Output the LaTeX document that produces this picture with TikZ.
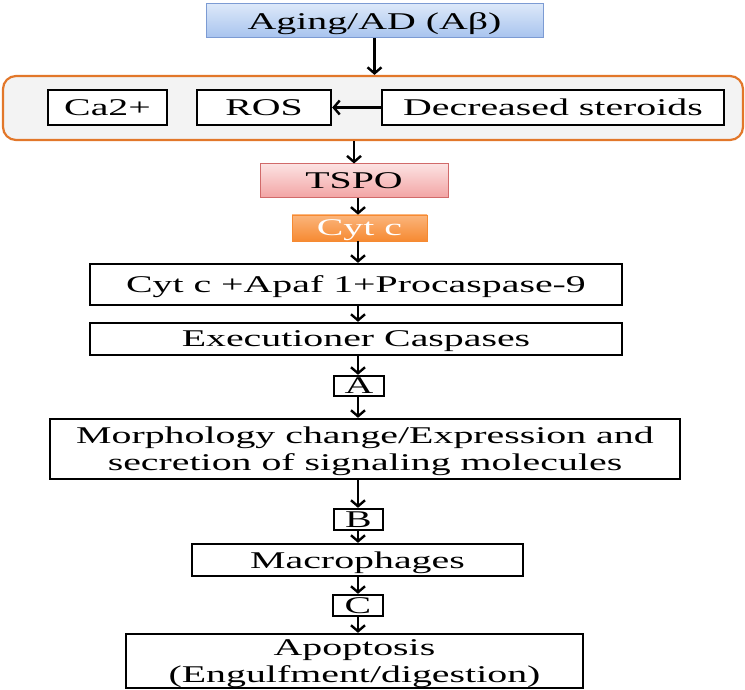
\documentclass[tikz,border=0pt]{standalone}
\usepackage{fontspec}
\setmainfont[FakeStretch=1.66]{Liberation Serif}
\usetikzlibrary{arrows.meta}

\definecolor{agingtop}{HTML}{DCE8F9}
\definecolor{agingbot}{HTML}{A7C3EE}
\definecolor{agingedge}{HTML}{7C9BD3}
\definecolor{tspotop}{HTML}{FCE2E2}
\definecolor{tspobot}{HTML}{F2A3A3}
\definecolor{tspoedge}{HTML}{D16A6A}
\definecolor{cyttop}{HTML}{FBB57C}
\definecolor{cytbot}{HTML}{F68A32}
\definecolor{groupedge}{HTML}{E2772A}
\definecolor{groupfill}{HTML}{F3F3F3}

\begin{document}
\begin{tikzpicture}[x=1pt,y=-1pt,
    every node/.style={font=\fontsize{24}{27}\selectfont,inner sep=0pt,text depth=0pt,align=center},
    blk/.style={draw,line width=2.3pt,fill=white},
    arr/.style={line width=2.4pt,-{Straight Barb[length=6pt,width=14pt]}}]
  \useasboundingbox (0,0) rectangle (745,690);
  \node[draw=agingedge,line width=1pt,top color=agingtop,bottom color=agingbot,minimum width=337,minimum height=34] (aging) at (374.5,21) {Aging/AD (Aβ)};
  \node[draw=groupedge,line width=2.2pt,fill=groupfill,rounded corners=13pt,minimum width=740,minimum height=64] (group) at (373,108) {};
  \node[blk,minimum width=119,minimum height=35] (ca) at (107.5,107.5) {Ca2+};
  \node[blk,minimum width=134,minimum height=35] (ros) at (264,107.5) {ROS};
  \node[blk,minimum width=342,minimum height=35] (steroids) at (553,107.5) {Decreased steroids};
  \node[draw=tspoedge,line width=1pt,top color=tspotop,bottom color=tspobot,minimum width=188,minimum height=34] (tspo) at (354,181) {TSPO};
  \node[draw=cytbot,line width=.6pt,top color=cyttop,bottom color=cytbot,text=white,minimum width=135,minimum height=26] (cytc) at (359.5,228) {Cyt c};
  \node[blk,minimum width=532,minimum height=41] (apaf) at (356,284.5) {Cyt c +Apaf 1+Procaspase-9};
  \node[blk,minimum width=532,minimum height=32] (exec) at (356,339) {Executioner Caspases};
  \node[blk,minimum width=50,minimum height=20] (stepa) at (359,386) {A};
  \node[blk,minimum width=630,minimum height=60] (morph) at (365,449) {Morphology change/Expression and\\secretion of signaling molecules};
  \node[blk,minimum width=49,minimum height=21] (stepb) at (358.5,519.5) {B};
  \node[blk,minimum width=331,minimum height=32] (macro) at (357.5,560) {Macrophages};
  \node[blk,minimum width=50,minimum height=21] (stepc) at (358,605.5) {C};
  \node[blk,minimum width=457,minimum height=54] (apop) at (354.5,661) {Apoptosis\\(Engulfment/digestion)};
  \coordinate (spine) at (358,0);
  \draw[arr] (aging.south) -- (aging.south |- group.north);
  \draw[arr] (steroids) -- (ros);
  \draw[arr] (tspo.north |- group.south) -- (tspo.north);
  \draw[arr] (spine |- tspo.south) -- (spine |- cytc.north);
  \draw[arr] (spine |- cytc.south) -- (spine |- apaf.north);
  \draw[arr] (spine |- apaf.south) -- (spine |- exec.north);
  \draw[arr] (spine |- exec.south) -- (spine |- stepa.north);
  \draw[arr] (spine |- stepa.south) -- (spine |- morph.north);
  \draw[arr] (spine |- morph.south) -- (spine |- stepb.north);
  \draw[arr] (spine |- stepb.south) -- (spine |- macro.north);
  \draw[arr] (spine |- macro.south) -- (spine |- stepc.north);
  \draw[arr] (spine |- stepc.south) -- (spine |- apop.north);
\end{tikzpicture}
\end{document}
